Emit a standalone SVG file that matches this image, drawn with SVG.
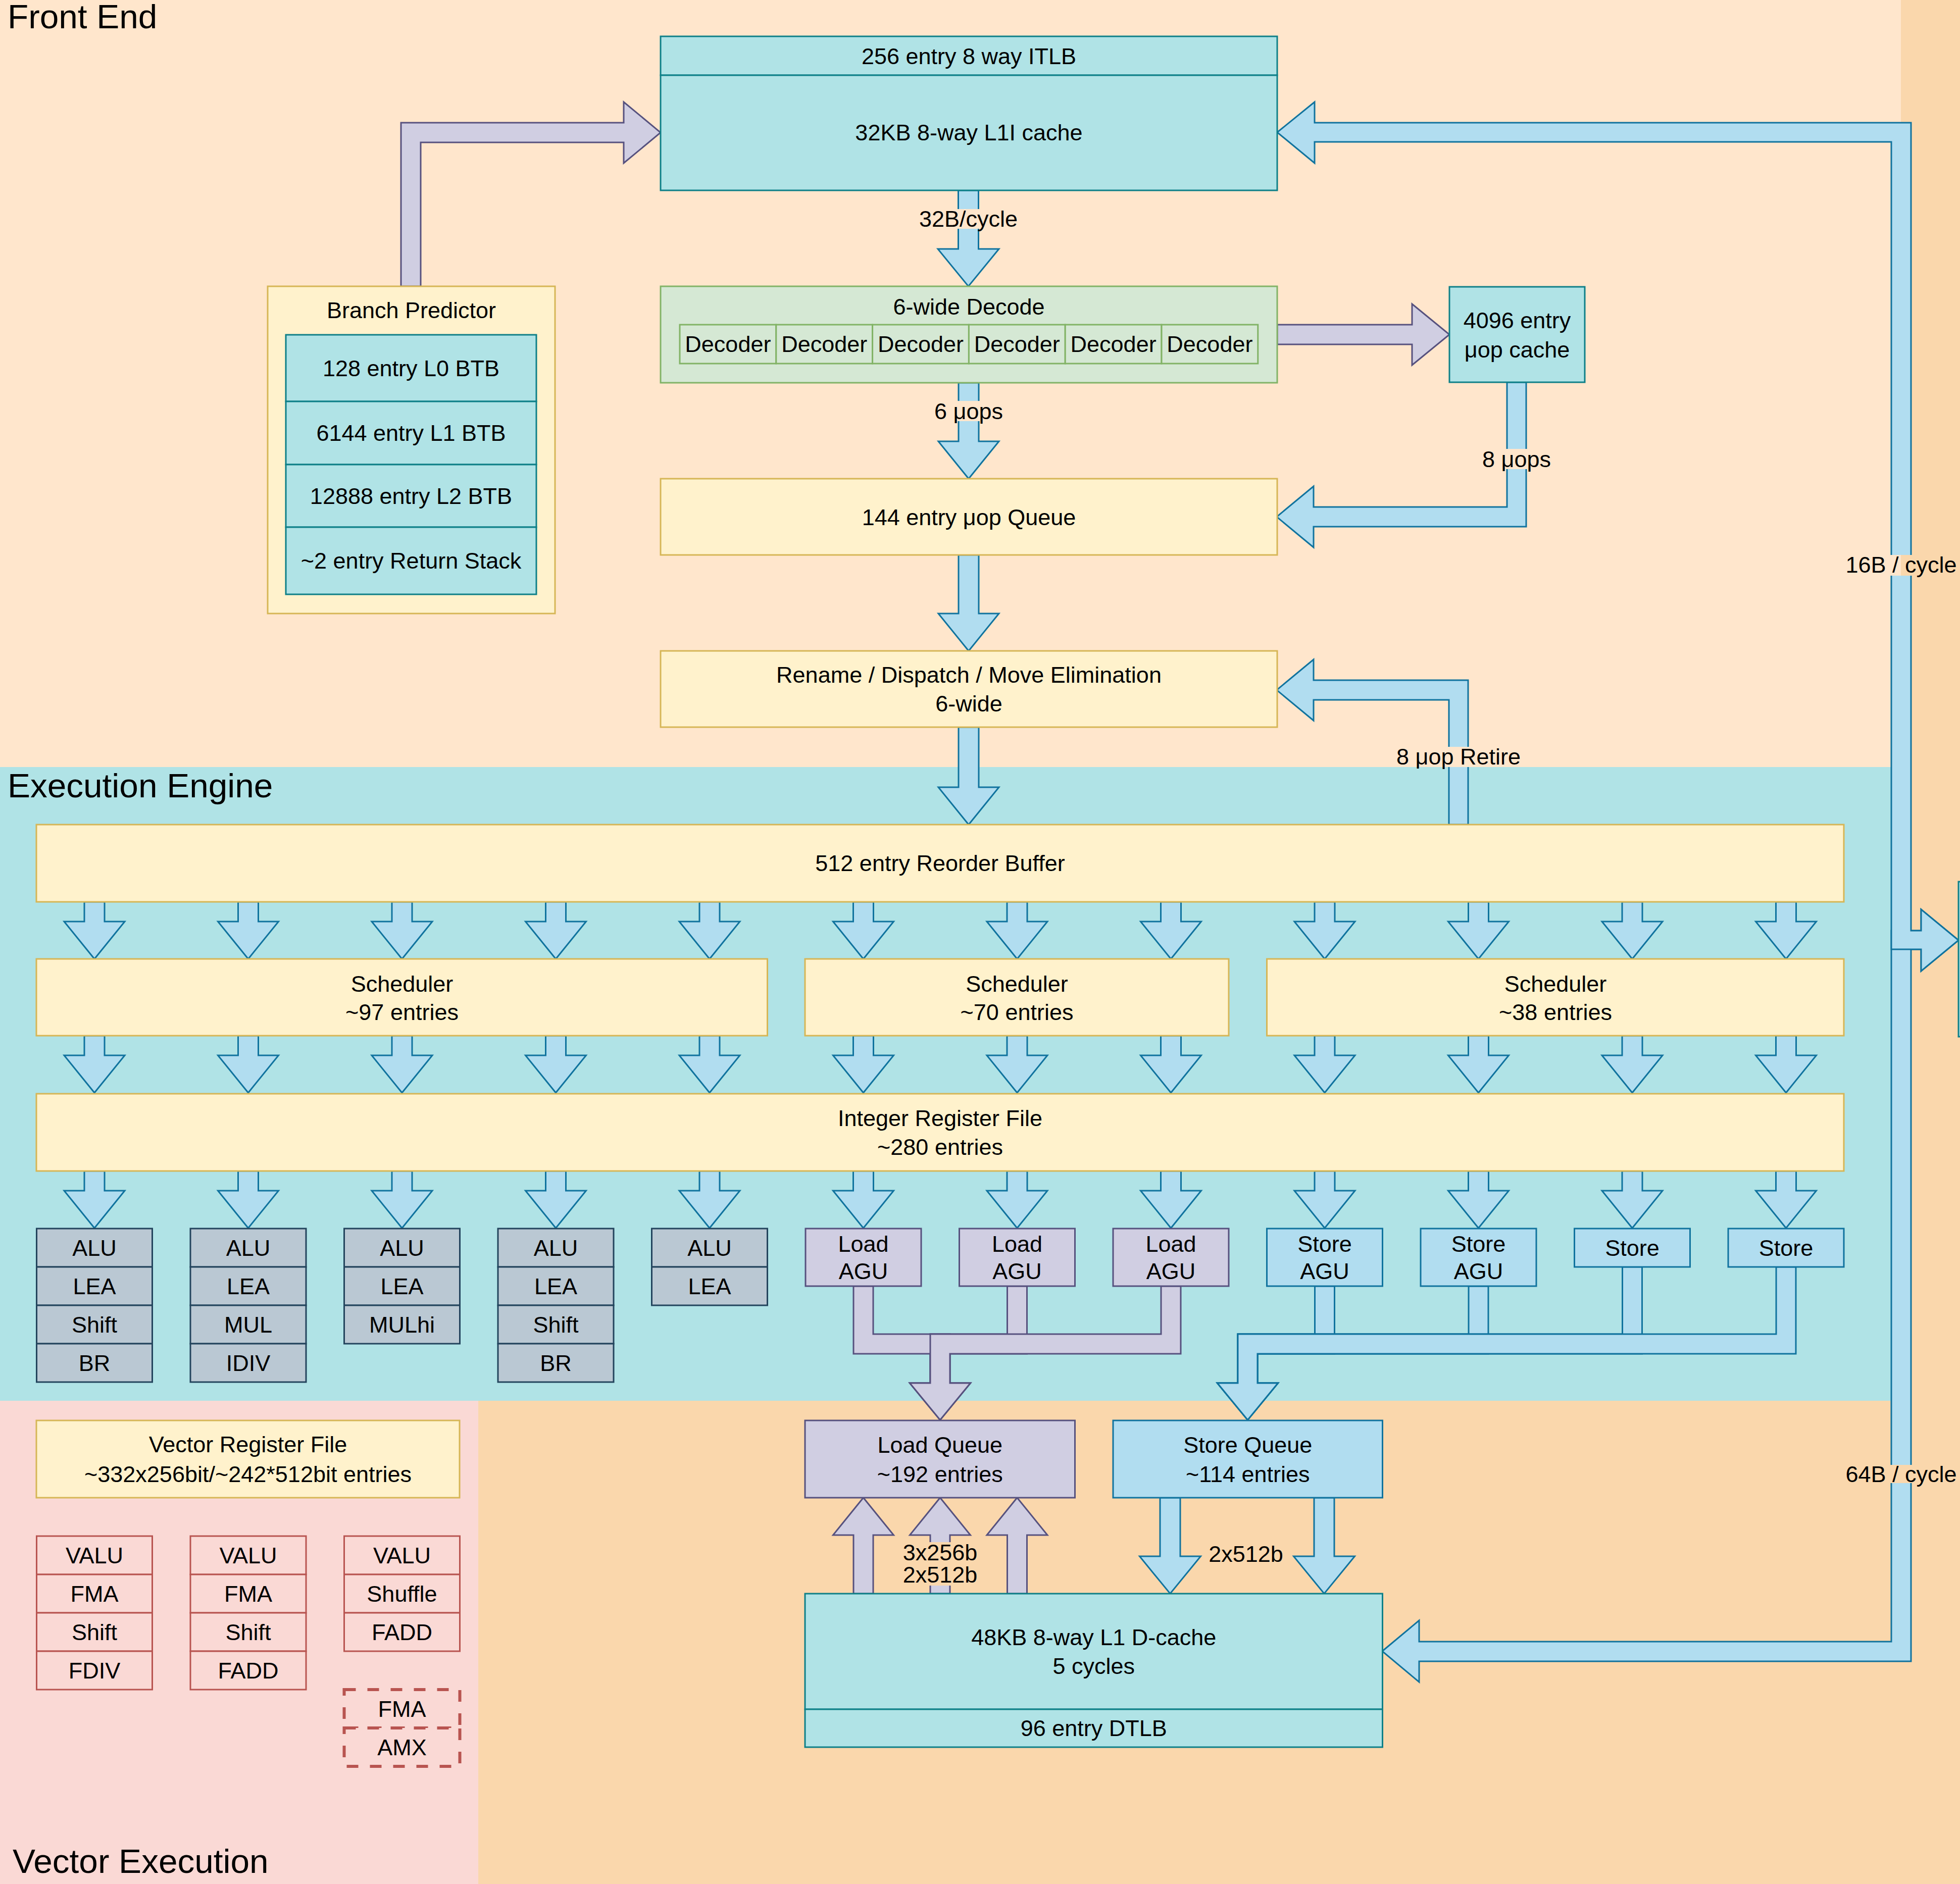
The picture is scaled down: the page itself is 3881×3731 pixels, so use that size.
<svg xmlns="http://www.w3.org/2000/svg" xmlns:xlink="http://www.w3.org/1999/xlink" width="3881" height="3731" viewBox="0 0 3881 3731">
  <style>
    text { font-family: "Liberation Sans", Arial, Helvetica, sans-serif; font-size: 45px; fill: #000; text-anchor: middle; }
    .hdr { font-size: 67.5px; text-anchor: start; }
    .yel { fill: #FFF2CC; stroke: #D6B656; stroke-width: 3; }
    .tea { fill: #B0E3E6; stroke: #0E8088; stroke-width: 3; }
    .grn { fill: #D5E8D4; stroke: #82B366; stroke-width: 3; }
    .pur { fill: #D0CEE2; stroke: #56517E; stroke-width: 3; }
    .blu { fill: #B1DDF0; stroke: #10739E; stroke-width: 3; }
    .int { fill: #BAC8D3; stroke: #23445D; stroke-width: 3; }
    .vec { fill: #FAD9D5; stroke: #B85450; stroke-width: 3; }
    .vdash { fill: #FAD9D5; stroke: #B85450; stroke-width: 6; stroke-dasharray: 23 23; }
    .aB { fill: #B1DDF0; stroke: #10739E; stroke-width: 3; stroke-linejoin: miter; }
    .aP { fill: #D0CEE2; stroke: #56517E; stroke-width: 3; stroke-linejoin: miter; }
  </style>
  <defs>
    <!-- short downward block arrow between the execution rows -->
    <path id="dn" d="M-20,0 H20 V39 H60 L0,113 L-60,39 H-20 Z"/>
  </defs>

  <!-- section backgrounds -->
  <g id="backgrounds">
    <rect x="0" y="0" width="3881" height="3731" fill="#FAD7AC"/>
    <rect x="0" y="0" width="3764" height="1519" fill="#FFE6CC"/>
    <rect x="0" y="1519" width="3764" height="1255" fill="#B0E3E6"/>
    <rect x="0" y="2774" width="947" height="957" fill="#FAD9D5"/>
    <text class="hdr" x="15" y="56">Front End</text>
    <text class="hdr" x="15" y="1579">Execution Engine</text>
    <text class="hdr" x="25" y="3709">Vector Execution</text>
  </g>

  <!-- connectors -->
  <g id="connectors">
    <!-- branch predictor to ITLB / L1I -->
    <path class="aP" d="M794,567 V243 H1235 V202 L1308,262.5 L1235,323 V282 H833 V567 Z"/>
    <!-- L1I to decode -->
    <path class="aB" d="M1897.5,377 H1937.5 V493 H1978 L1917.5,567 L1857,493 H1897.5 Z"/>
    <!-- decode to uop queue -->
    <path class="aB" d="M1898,758 H1938 V874 H1978 L1918,948 L1858,874 H1898 Z"/>
    <!-- decode to uop cache -->
    <path class="aP" d="M2529,643 H2796 V602 L2870,662.5 L2796,723 V682 H2529 Z"/>
    <!-- uop cache to uop queue -->
    <path class="aB" d="M2984,757 H3022 V1043 H2601 V1084 L2528,1023.5 L2601,963 V1004 H2984 Z"/>
    <!-- uop queue to rename -->
    <path class="aB" d="M1898,1099 H1938 V1215 H1978 L1918,1289 L1858,1215 H1898 Z"/>
    <!-- rename to reorder buffer -->
    <path class="aB" d="M1898,1440 H1938 V1559 H1978 L1918,1633 L1858,1559 H1898 Z"/>
    <!-- retire path back to rename -->
    <path class="aB" d="M2869,1633 V1386 H2601 V1427 L2528,1366.5 L2601,1306 V1347 H2907 V1633 Z"/>

    <!-- L1D <-> L2 -->
    <path class="aB" d="M2737,3270 L2810,3209 V3251 H3745 V1843 H3804 V1801 L3878,1862 L3804,1923 V1880 H3784 V3290 H2810 V3331 Z"/>
    <!-- L1I <-> L2 -->
    <path class="aB" d="M2529,262 L2603,202 V243 H3784 V1843 H3804 V1801 L3878,1862 L3804,1923 V1880 H3745 V281 H2603 V323 Z"/>

    <!-- reorder buffer to schedulers -->
    <g class="aB">
      <use xlink:href="#dn" x="187" y="1786"/>
      <use xlink:href="#dn" x="491.5" y="1786"/>
      <use xlink:href="#dn" x="796" y="1786"/>
      <use xlink:href="#dn" x="1100.5" y="1786"/>
      <use xlink:href="#dn" x="1405" y="1786"/>
      <use xlink:href="#dn" x="1709.5" y="1786"/>
      <use xlink:href="#dn" x="2014" y="1786"/>
      <use xlink:href="#dn" x="2318.5" y="1786"/>
      <use xlink:href="#dn" x="2623" y="1786"/>
      <use xlink:href="#dn" x="2927.5" y="1786"/>
      <use xlink:href="#dn" x="3232" y="1786"/>
      <use xlink:href="#dn" x="3536.5" y="1786"/>
    </g>
    <!-- schedulers to integer register file -->
    <g class="aB">
      <use xlink:href="#dn" x="187" y="2051"/>
      <use xlink:href="#dn" x="491.5" y="2051"/>
      <use xlink:href="#dn" x="796" y="2051"/>
      <use xlink:href="#dn" x="1100.5" y="2051"/>
      <use xlink:href="#dn" x="1405" y="2051"/>
      <use xlink:href="#dn" x="1709.5" y="2051"/>
      <use xlink:href="#dn" x="2014" y="2051"/>
      <use xlink:href="#dn" x="2318.5" y="2051"/>
      <use xlink:href="#dn" x="2623" y="2051"/>
      <use xlink:href="#dn" x="2927.5" y="2051"/>
      <use xlink:href="#dn" x="3232" y="2051"/>
      <use xlink:href="#dn" x="3536.5" y="2051"/>
    </g>
    <!-- register file to execution ports -->
    <g class="aB">
      <use xlink:href="#dn" x="187" y="2319"/>
      <use xlink:href="#dn" x="491.5" y="2319"/>
      <use xlink:href="#dn" x="796" y="2319"/>
      <use xlink:href="#dn" x="1100.5" y="2319"/>
      <use xlink:href="#dn" x="1405" y="2319"/>
      <use xlink:href="#dn" x="1709.5" y="2319"/>
      <use xlink:href="#dn" x="2014" y="2319"/>
      <use xlink:href="#dn" x="2318.5" y="2319"/>
      <use xlink:href="#dn" x="2623" y="2319"/>
      <use xlink:href="#dn" x="2927.5" y="2319"/>
      <use xlink:href="#dn" x="3232" y="2319"/>
      <use xlink:href="#dn" x="3536.5" y="2319"/>
    </g>

    <!-- load AGUs merging into the load queue -->
    <path class="aP" d="M1994.5,2547 H2033.5 V2681 H1881 V2739 H1921.5 L1861.5,2812 L1801.5,2739 H1842 V2642 H1994.5 Z"/>
    <path class="aP" d="M1690,2547 H1729 V2642 H1881 V2739 H1921.5 L1861.5,2812 L1801.5,2739 H1842 V2681 H1690 Z"/>
    <path class="aP" d="M2299,2547 H2338 V2681 H1881 V2739 H1921.5 L1861.5,2812 L1801.5,2739 H1842 V2642 H2299 Z"/>

    <!-- store ports merging into the store queue -->
    <path class="aB" d="M2603.5,2547 H2642.5 V2681 H2490 V2739 H2530.5 L2470.5,2812 L2410.5,2739 H2451 V2642 H2603.5 Z"/>
    <path class="aB" d="M2908,2547 H2947 V2681 H2490 V2739 H2530.5 L2470.5,2812 L2410.5,2739 H2451 V2642 H2908 Z"/>
    <path class="aB" d="M3212.5,2509 H3251.5 V2681 H2490 V2739 H2530.5 L2470.5,2812 L2410.5,2739 H2451 V2642 H3212.5 Z"/>
    <path class="aB" d="M3517,2509 H3556 V2681 H2490 V2739 H2530.5 L2470.5,2812 L2410.5,2739 H2451 V2642 H3517 Z"/>

    <!-- L1D to load queue -->
    <path class="aP" d="M1690,3156 V3040 H1649.5 L1709.5,2966 L1769.5,3040 H1729 V3156 Z"/>
    <path class="aP" d="M1842,3156 V3040 H1801.5 L1861.5,2966 L1921.5,3040 H1881 V3156 Z"/>
    <path class="aP" d="M1994.5,3156 V3040 H1954 L2014,2966 L2074,3040 H2033.5 V3156 Z"/>
    <!-- store queue to L1D -->
    <path class="aB" d="M2297,2966 H2337 V3082 H2377.5 L2317,3156 L2256.5,3082 H2297 Z"/>
    <path class="aB" d="M2602,2966 H2642 V3082 H2682.5 L2622,3156 L2561.5,3082 H2602 Z"/>

    <!-- connector labels -->
    <rect x="1820" y="414" width="195" height="39" fill="#FFE6CC"/>
    <text x="1917.5" y="449">32B/cycle</text>
    <rect x="1850" y="794" width="136" height="40" fill="#FFE6CC"/>
    <text x="1918" y="830">6 μops</text>
    <rect x="2935" y="889" width="136" height="40" fill="#FFE6CC"/>
    <text x="3003" y="925">8 μops</text>
    <rect x="2765" y="1479" width="246" height="40" fill="#FFE6CC"/>
    <text x="2888" y="1514">8 μop Retire</text>
    <rect x="3742" y="1099" width="22.5" height="41" fill="#FFE6CC"/>
    <rect x="3764" y="1099" width="23" height="41" fill="#FAD7AC"/>
    <text x="3764.5" y="1134">16B / cycle</text>
    <rect x="3742" y="2901" width="46" height="36" fill="#FAD7AC"/>
    <text x="3764.5" y="2935">64B / cycle</text>
    <rect x="1788" y="3054" width="147" height="86" fill="#FAD7AC"/>
    <text x="1861.5" y="3090">3x256b</text>
    <text x="1861.5" y="3134">2x512b</text>
    <text x="2467" y="3093">2x512b</text>
  </g>

  <!-- front end -->
  <g id="branch-predictor">
    <rect class="yel" x="530" y="567" width="569" height="648"/>
    <text x="814.5" y="630">Branch Predictor</text>
    <rect class="tea" x="566" y="663" width="496" height="132"/>
    <text x="814" y="745">128 entry L0 BTB</text>
    <rect class="tea" x="566" y="795" width="496" height="125"/>
    <text x="814" y="873">6144 entry L1 BTB</text>
    <rect class="tea" x="566" y="920" width="496" height="124"/>
    <text x="814" y="998">12888 entry L2 BTB</text>
    <rect class="tea" x="566" y="1044" width="496" height="133"/>
    <text x="814" y="1126">~2 entry Return Stack</text>
  </g>
  <g id="itlb">
    <rect class="tea" x="1308" y="72" width="1221" height="77"/>
    <text x="1918.5" y="127">256 entry 8 way ITLB</text>
  </g>
  <g id="l1i">
    <rect class="tea" x="1308" y="149" width="1221" height="228"/>
    <text x="1918.5" y="278">32KB 8-way L1I cache</text>
  </g>
  <g id="decode">
    <rect class="grn" x="1308" y="567" width="1221" height="191"/>
    <text x="1918.5" y="623">6-wide Decode</text>
    <rect class="grn" x="1346" y="643" width="190.8" height="77"/>
    <rect class="grn" x="1536.8" y="643" width="190.8" height="77"/>
    <rect class="grn" x="1727.6" y="643" width="190.8" height="77"/>
    <rect class="grn" x="1918.4" y="643" width="190.8" height="77"/>
    <rect class="grn" x="2109.2" y="643" width="190.8" height="77"/>
    <rect class="grn" x="2300" y="643" width="190.8" height="77"/>
    <text x="1441.4" y="697">Decoder</text>
    <text x="1632.2" y="697">Decoder</text>
    <text x="1823" y="697">Decoder</text>
    <text x="2013.8" y="697">Decoder</text>
    <text x="2204.6" y="697">Decoder</text>
    <text x="2395.4" y="697">Decoder</text>
  </g>
  <g id="uop-cache">
    <rect class="tea" x="2870" y="568" width="268" height="189"/>
    <text x="3004" y="650">4096 entry</text>
    <text x="3004" y="708">μop cache</text>
  </g>
  <g id="uop-queue">
    <rect class="yel" x="1308" y="948" width="1221" height="151"/>
    <text x="1918.5" y="1040">144 entry μop Queue</text>
  </g>
  <g id="rename">
    <rect class="yel" x="1308" y="1289" width="1221" height="151"/>
    <text x="1918.5" y="1352">Rename / Dispatch / Move Elimination</text>
    <text x="1918.5" y="1409">6-wide</text>
  </g>
  <g id="l2-edge">
    <rect class="tea" x="3878" y="1746" width="60" height="307"/>
  </g>

  <!-- execution engine -->
  <g id="rob">
    <rect class="yel" x="72" y="1633" width="3579" height="153"/>
    <text x="1861.5" y="1725">512 entry Reorder Buffer</text>
  </g>
  <g id="scheduler-1">
    <rect class="yel" x="72" y="1899" width="1447.5" height="152"/>
    <text x="796" y="1964">Scheduler</text>
    <text x="796" y="2020">~97 entries</text>
  </g>
  <g id="scheduler-2">
    <rect class="yel" x="1594" y="1899" width="839" height="152"/>
    <text x="2013.5" y="1964">Scheduler</text>
    <text x="2013.5" y="2020">~70 entries</text>
  </g>
  <g id="scheduler-3">
    <rect class="yel" x="2508.5" y="1899" width="1142.5" height="152"/>
    <text x="3080" y="1964">Scheduler</text>
    <text x="3080" y="2020">~38 entries</text>
  </g>
  <g id="int-regfile">
    <rect class="yel" x="72" y="2166" width="3579" height="153"/>
    <text x="1861.5" y="2230">Integer Register File</text>
    <text x="1861.5" y="2287">~280 entries</text>
  </g>

  <g id="port-0">
    <rect class="int" x="72.5" y="2433" width="229" height="76"/><text x="187" y="2487">ALU</text>
    <rect class="int" x="72.5" y="2509" width="229" height="76"/><text x="187" y="2563">LEA</text>
    <rect class="int" x="72.5" y="2585" width="229" height="76"/><text x="187" y="2639">Shift</text>
    <rect class="int" x="72.5" y="2661" width="229" height="76"/><text x="187" y="2715">BR</text>
  </g>
  <g id="port-1">
    <rect class="int" x="377" y="2433" width="229" height="76"/><text x="491.5" y="2487">ALU</text>
    <rect class="int" x="377" y="2509" width="229" height="76"/><text x="491.5" y="2563">LEA</text>
    <rect class="int" x="377" y="2585" width="229" height="76"/><text x="491.5" y="2639">MUL</text>
    <rect class="int" x="377" y="2661" width="229" height="76"/><text x="491.5" y="2715">IDIV</text>
  </g>
  <g id="port-2">
    <rect class="int" x="681.5" y="2433" width="229" height="76"/><text x="796" y="2487">ALU</text>
    <rect class="int" x="681.5" y="2509" width="229" height="76"/><text x="796" y="2563">LEA</text>
    <rect class="int" x="681.5" y="2585" width="229" height="76"/><text x="796" y="2639">MULhi</text>
  </g>
  <g id="port-3">
    <rect class="int" x="986" y="2433" width="229" height="76"/><text x="1100.5" y="2487">ALU</text>
    <rect class="int" x="986" y="2509" width="229" height="76"/><text x="1100.5" y="2563">LEA</text>
    <rect class="int" x="986" y="2585" width="229" height="76"/><text x="1100.5" y="2639">Shift</text>
    <rect class="int" x="986" y="2661" width="229" height="76"/><text x="1100.5" y="2715">BR</text>
  </g>
  <g id="port-4">
    <rect class="int" x="1290.5" y="2433" width="229" height="76"/><text x="1405" y="2487">ALU</text>
    <rect class="int" x="1290.5" y="2509" width="229" height="76"/><text x="1405" y="2563">LEA</text>
  </g>
  <g id="load-agu-1">
    <rect class="pur" x="1595" y="2433" width="229" height="114"/>
    <text x="1709.5" y="2479">Load</text><text x="1709.5" y="2533">AGU</text>
  </g>
  <g id="load-agu-2">
    <rect class="pur" x="1899.5" y="2433" width="229" height="114"/>
    <text x="2014" y="2479">Load</text><text x="2014" y="2533">AGU</text>
  </g>
  <g id="load-agu-3">
    <rect class="pur" x="2204" y="2433" width="229" height="114"/>
    <text x="2318.5" y="2479">Load</text><text x="2318.5" y="2533">AGU</text>
  </g>
  <g id="store-agu-1">
    <rect class="blu" x="2508.5" y="2433" width="229" height="114"/>
    <text x="2623" y="2479">Store</text><text x="2623" y="2533">AGU</text>
  </g>
  <g id="store-agu-2">
    <rect class="blu" x="2813" y="2433" width="229" height="114"/>
    <text x="2927.5" y="2479">Store</text><text x="2927.5" y="2533">AGU</text>
  </g>
  <g id="store-1">
    <rect class="blu" x="3117.5" y="2433" width="229" height="76"/>
    <text x="3232" y="2487">Store</text>
  </g>
  <g id="store-2">
    <rect class="blu" x="3422" y="2433" width="229" height="76"/>
    <text x="3536.5" y="2487">Store</text>
  </g>

  <!-- load / store unit -->
  <g id="load-queue">
    <rect class="pur" x="1594" y="2813" width="534.5" height="153"/>
    <text x="1861.25" y="2877">Load Queue</text>
    <text x="1861.25" y="2935">~192 entries</text>
  </g>
  <g id="store-queue">
    <rect class="blu" x="2204" y="2813" width="533.5" height="153"/>
    <text x="2470.75" y="2877">Store Queue</text>
    <text x="2470.75" y="2935">~114 entries</text>
  </g>
  <g id="l1d">
    <rect class="tea" x="1594" y="3156" width="1143.5" height="229"/>
    <text x="2165.75" y="3258">48KB 8-way L1 D-cache</text>
    <text x="2165.75" y="3315">5 cycles</text>
  </g>
  <g id="dtlb">
    <rect class="tea" x="1594" y="3385" width="1143.5" height="75"/>
    <text x="2165.75" y="3438">96 entry DTLB</text>
  </g>

  <!-- vector execution -->
  <g id="vec-regfile">
    <rect class="yel" x="72" y="2813" width="838" height="153"/>
    <text x="491" y="2876">Vector Register File</text>
    <text x="491" y="2935">~332x256bit/~242*512bit entries</text>
  </g>
  <g id="vec-port-0">
    <rect class="vec" x="72.5" y="3042" width="229" height="76"/><text x="187" y="3096">VALU</text>
    <rect class="vec" x="72.5" y="3118" width="229" height="76"/><text x="187" y="3172">FMA</text>
    <rect class="vec" x="72.5" y="3194" width="229" height="76"/><text x="187" y="3248">Shift</text>
    <rect class="vec" x="72.5" y="3270" width="229" height="76"/><text x="187" y="3324">FDIV</text>
  </g>
  <g id="vec-port-1">
    <rect class="vec" x="377" y="3042" width="229" height="76"/><text x="491.5" y="3096">VALU</text>
    <rect class="vec" x="377" y="3118" width="229" height="76"/><text x="491.5" y="3172">FMA</text>
    <rect class="vec" x="377" y="3194" width="229" height="76"/><text x="491.5" y="3248">Shift</text>
    <rect class="vec" x="377" y="3270" width="229" height="76"/><text x="491.5" y="3324">FADD</text>
  </g>
  <g id="vec-port-5">
    <rect class="vec" x="681.5" y="3042" width="229" height="76"/><text x="796" y="3096">VALU</text>
    <rect class="vec" x="681.5" y="3118" width="229" height="76"/><text x="796" y="3172">Shuffle</text>
    <rect class="vec" x="681.5" y="3194" width="229" height="76"/><text x="796" y="3248">FADD</text>
  </g>
  <g id="vec-optional">
    <rect class="vdash" x="681.5" y="3346" width="229" height="76"/><text x="796" y="3400">FMA</text>
    <rect class="vdash" x="681.5" y="3422" width="229" height="76"/><text x="796" y="3476">AMX</text>
  </g>
</svg>
